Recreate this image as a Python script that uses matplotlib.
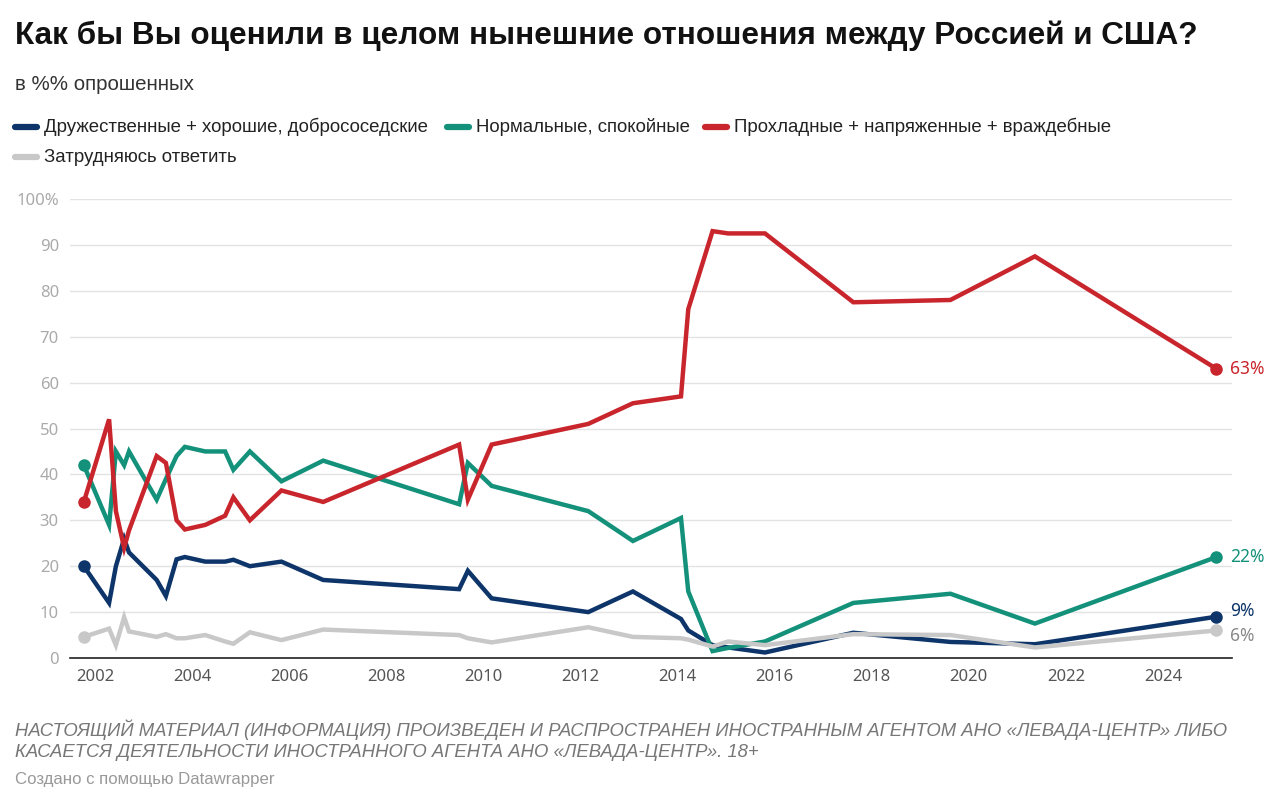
import matplotlib
matplotlib.use("Agg")
import matplotlib.pyplot as plt
from matplotlib.lines import Line2D

plt.rcParams['font.family'] = ['Liberation Sans', 'DejaVu Sans']

# survey dates (fractional years) and shares, %
dates = [2001.77, 2002.29, 2002.43, 2002.6, 2002.7, 2003.27, 2003.46, 2003.68, 2003.85,
         2004.27, 2004.68, 2004.85, 2005.19, 2005.84, 2006.7, 2009.5, 2009.68, 2010.17,
         2012.16, 2013.08, 2014.07, 2014.22, 2014.72, 2015.04, 2015.8, 2017.62, 2019.62,
         2021.36, 2025.1]

friendly = [20, 12, 20, 26, 23, 17, 13.5, 21.5, 22, 21, 21, 21.4, 20, 21, 17, 15, 19, 13,
            10, 14.5, 8.5, 6, 2.8, 2.3, 1.2, 5.5, 3.5, 3, 9]
normal = [42, 29, 45, 42, 45, 34.5, 39, 44, 46, 45, 45, 41, 45, 38.5, 43, 33.5, 42.5, 37.5,
          32, 25.5, 30.5, 14.5, 1.5, 2.2, 3.6, 12, 14, 7.5, 22]
hostile = [34, 52, 32, 24, 27.8, 44, 42.5, 30, 28, 29, 31, 35, 30, 36.5, 34, 46.5, 34.5, 46.5,
           51, 55.5, 57, 76, 93, 92.5, 92.5, 77.5, 78, 87.5, 63]
dontknow = [4.6, 6.4, 2.8, 8.9, 5.8, 4.6, 5.2, 4.3, 4.3, 5, 3.6, 3.1, 5.6, 3.9, 6.2, 5, 4.3,
            3.4, 6.7, 4.6, 4.3, 4, 2.5, 3.6, 2.8, 5.2, 5, 2.3, 6]

names = ['Дружественные + хорошие, добрососедские', 'Нормальные, спокойные',
         'Прохладные + напряженные + враждебные', 'Затрудняюсь ответить']
colors = ['#0e356a', '#14917a', '#c9252c', '#c8c8c8']
label_colors = ['#0e356a', '#14917a', '#c9252c', '#888888']
end_labels = ['9%', '22%', '63%', '6%']

tick_font = ['Noto Sans', 'DejaVu Sans']

fig = plt.figure(figsize=(12.8, 8.05), dpi=100)
ax = fig.add_axes([0.0547, 0.1826, 0.9078, 0.5702])

series = [friendly, normal, hostile, dontknow]
order = [3, 0, 1, 2]  # gray underneath
for i in order:
    ax.plot(dates, series[i], color=colors[i], lw=3.2, solid_joinstyle='miter', zorder=3 + i)
    ax.plot([dates[0], dates[-1]], [series[i][0], series[i][-1]], 'o', color=colors[i],
            ms=8, zorder=3 + i)

# end labels (9% and 6% pushed apart)
offsets = {0: 1.3, 1: 0, 2: 0, 3: -1.3}
for i in range(4):
    ax.text(dates[-1] + 0.28, series[i][-1] + offsets[i], end_labels[i], color=label_colors[i],
            fontsize=12.5, family=tick_font, va='center', ha='left', clip_on=False)

ax.set_xlim(2001.485, 2025.42)
ax.set_ylim(0, 100)
ax.set_yticks(range(0, 101, 10))
ax.set_yticklabels(['0', '10', '20', '30', '40', '50', '60', '70', '80', '90', '100%'])
ax.set_xticks(range(2002, 2025, 2))
ax.tick_params(axis='y', length=0, labelsize=12, labelcolor='#aaaaaa', pad=8)
ax.tick_params(axis='x', length=0, labelsize=12, labelcolor='#555555', pad=8)
for lab in ax.get_yticklabels() + ax.get_xticklabels():
    lab.set_family(tick_font)
ax.grid(axis='y', color='#e3e3e3', lw=1)
ax.set_axisbelow(True)
for s in ['top', 'right', 'left']:
    ax.spines[s].set_visible(False)
ax.spines['bottom'].set_color('#222222')
ax.spines['bottom'].set_linewidth(1.2)
ax.spines['bottom'].set_zorder(10)

# titles
fig.text(15 / 1280, 1 - 36 / 805, 'Как бы Вы оценили в целом нынешние отношения между Россией и США?',
         fontsize=22.7, fontweight='bold', color='#111111', va='center', ha='left')
fig.text(15 / 1280, 1 - 84 / 805, 'в %% опрошенных', fontsize=14.8, color='#333333',
         va='center', ha='left')

# legend
leg_pos = [(15, 127), (447, 127), (705, 127), (15, 157)]
for i, (px, py) in enumerate(leg_pos):
    y = 1 - py / 805
    fig.add_artist(Line2D([px / 1280, (px + 22) / 1280], [y, y], color=colors[i], lw=4.5,
                          solid_capstyle='round'))
    fig.text((px + 29) / 1280, y, names[i], fontsize=13.4, color='#222222', va='center', ha='left')

# footer
fig.text(15 / 1280, 1 - 730 / 805,
         'НАСТОЯЩИЙ МАТЕРИАЛ (ИНФОРМАЦИЯ) ПРОИЗВЕДЕН И РАСПРОСТРАНЕН ИНОСТРАННЫМ АГЕНТОМ АНО «ЛЕВАДА-ЦЕНТР» ЛИБО',
         fontsize=13.3, style='italic', color='#777777', va='center', ha='left')
fig.text(15 / 1280, 1 - 752 / 805,
         'КАСАЕТСЯ ДЕЯТЕЛЬНОСТИ ИНОСТРАННОГО АГЕНТА АНО «ЛЕВАДА-ЦЕНТР». 18+',
         fontsize=13.3, style='italic', color='#777777', va='center', ha='left')
fig.text(15 / 1280, 1 - 779 / 805, 'Создано с помощью Datawrapper', fontsize=12.1,
         color='#999999', va='center', ha='left')

fig.savefig('out.png', dpi=100, facecolor='white')
